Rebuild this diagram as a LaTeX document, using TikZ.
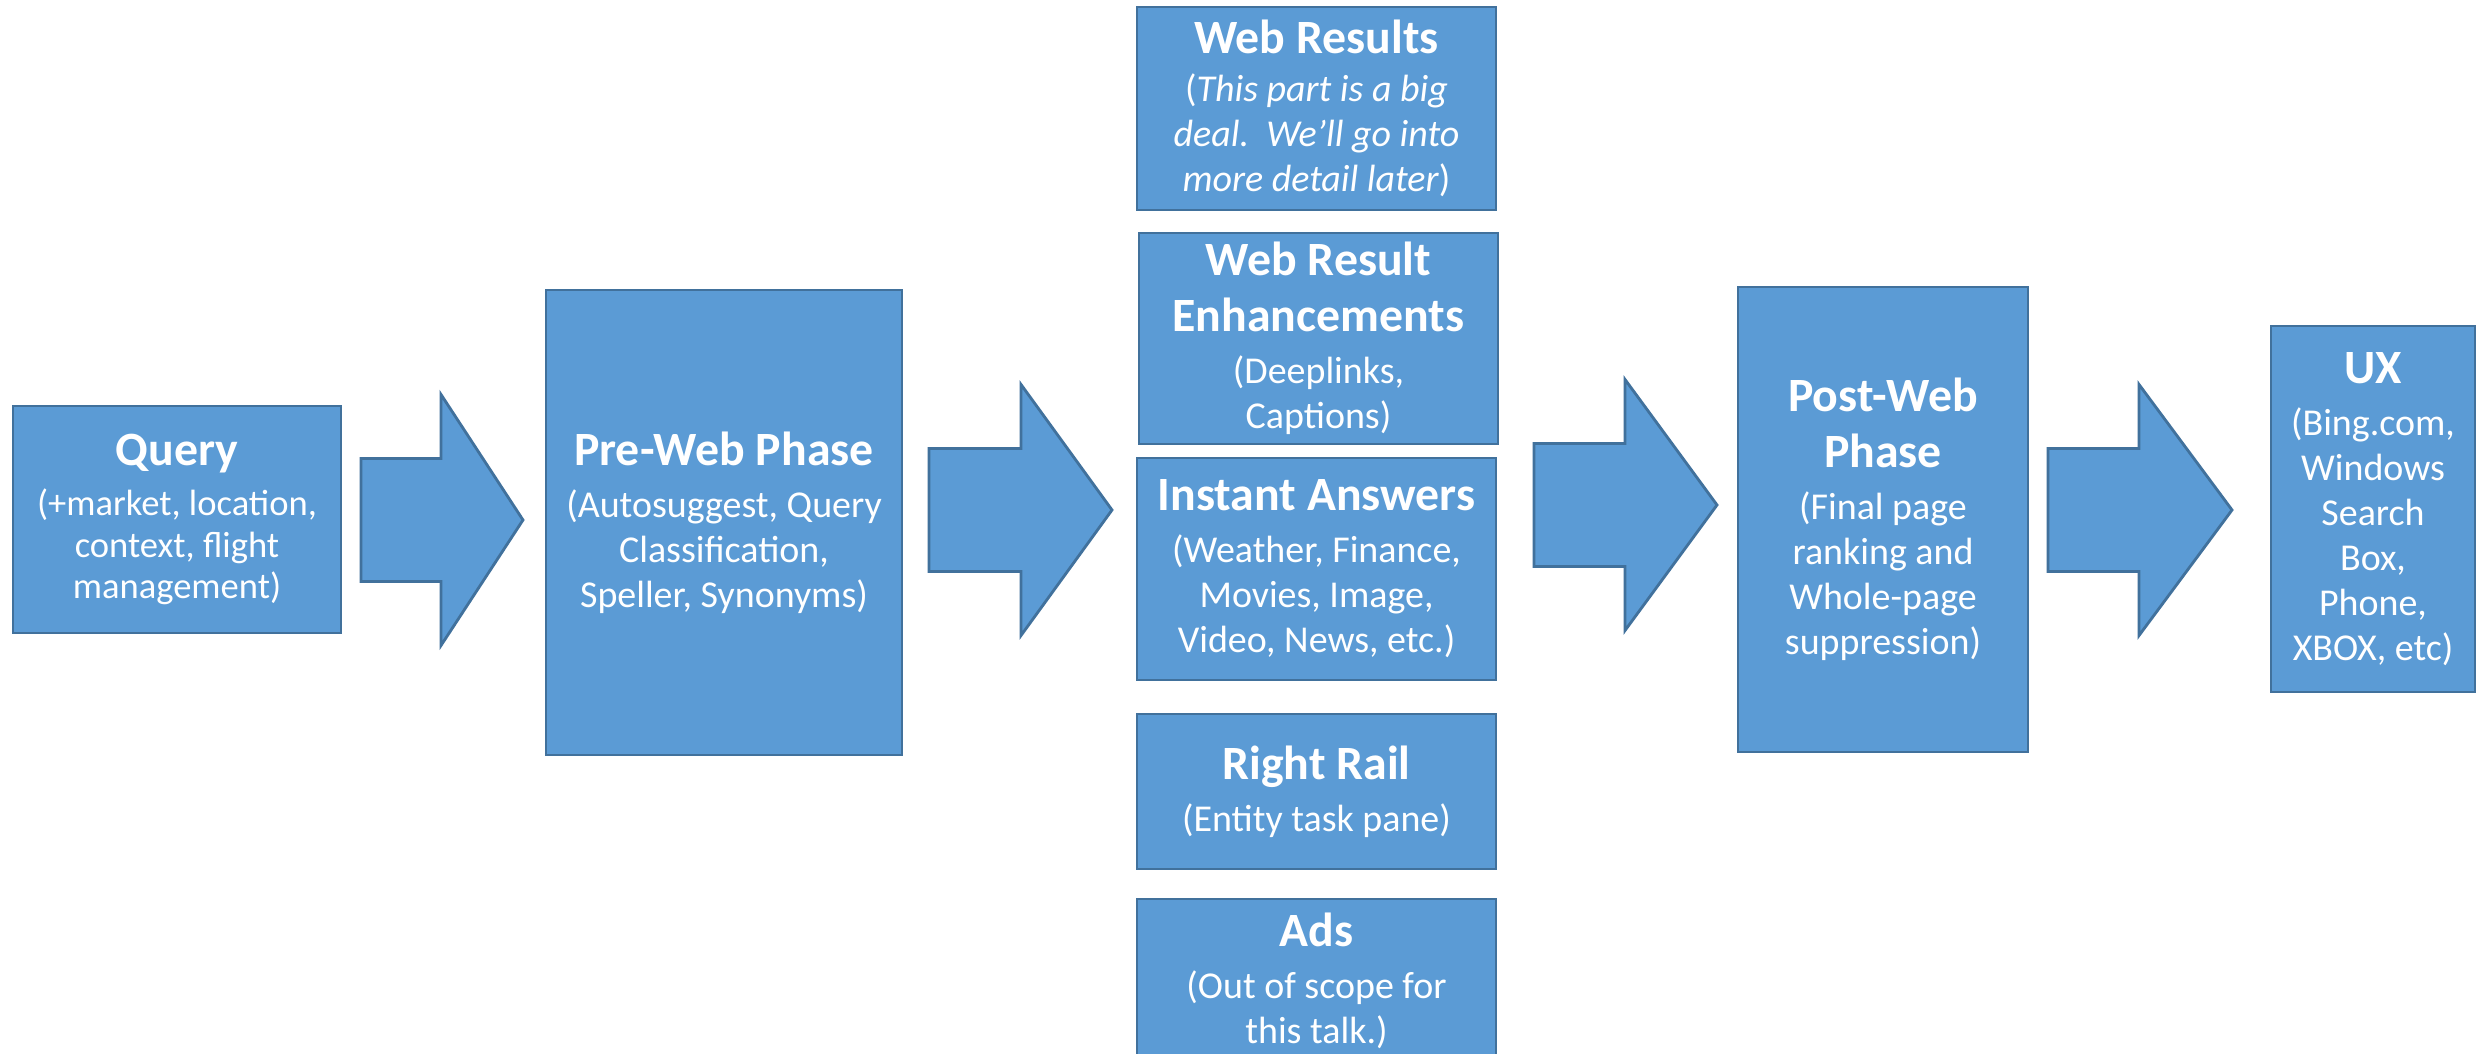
\documentclass[tikz,border=0pt]{standalone}
\usepackage{fontspec}
\setmainfont{Carlito}
\definecolor{boxfill}{HTML}{5B9BD5}
\definecolor{boxline}{HTML}{41719C}
\tikzset{
  stage/.style={draw=boxline, fill=boxfill, line width=0.8pt, text=white,
    align=center, inner sep=0pt, font=\fontsize{10.8}{12.8}\selectfont},
  blockarrow/.style={draw=boxline, fill=boxfill, line width=0.8pt, line join=miter},
}
\newcommand{\ttl}[1]{{\fontsize{13.6}{16}\selectfont\bfseries #1}}
\begin{document}
\begin{tikzpicture}[x=0.1mm,y=-0.1mm]
\useasboundingbox (0,0) rectangle (2481,1054);
\fill[white] (0,0) rectangle (2481,1054);
\clip (0,0) rectangle (2481,1054);
% stages
\node[stage, minimum width=32.8mm, minimum height=22.7mm, font=\fontsize{10.4}{11.8}\selectfont] (query) at (177,519.5)
  {\ttl{Query}\\[2.5pt](+market, location,\\context, flight\\management)};
\node[stage, minimum width=35.6mm, minimum height=46.5mm] (preweb) at (724,522.5)
  {\ttl{Pre-Web Phase}\\[2pt](Autosuggest, Query\\Classification,\\Speller, Synonyms)};
\node[stage, minimum width=35.9mm, minimum height=20.3mm] (webres) at (1316.5,108.5)
  {\ttl{Web Results}\\[1pt](\textit{This part is a big}\\\textit{deal.\ \ We’ll go into}\\\textit{more detail later})};
\node[stage, minimum width=35.9mm, minimum height=21.1mm] (enhance) at (1318.5,338.5)
  {\ttl{Web Result}\\[3pt]\ttl{Enhancements}\\[2pt](Deeplinks,\\Captions)};
\node[stage, minimum width=35.9mm, minimum height=22.2mm] (instant) at (1316.5,569)
  {\ttl{Instant Answers}\\[2pt](Weather, Finance,\\Movies, Image,\\Video, News, etc.)};
\node[stage, minimum width=35.9mm, minimum height=15.5mm] (rail) at (1316.5,791.5)
  {\ttl{Right Rail}\\[2pt](Entity task pane)};
\node[stage, minimum width=35.9mm, minimum height=16.4mm] (ads) at (1316.5,981)
  {\ttl{Ads}\\[2pt](Out of scope for\\this talk.)};
\node[stage, minimum width=29mm, minimum height=46.5mm] (postweb) at (1883,519.5)
  {\ttl{Post-Web}\\[3pt]\ttl{Phase}\\[2pt](Final page\\ranking and\\Whole-page\\suppression)};
\node[stage, minimum width=20.4mm, minimum height=36.6mm] (ux) at (2373,509)
  {\ttl{UX}\\[2pt](Bing.com,\\Windows\\Search\\Box,\\Phone,\\XBOX, etc)};
% block arrows between the stages
\foreach \xa/\xb/\xc/\cy in {361/441/523/520, 929/1021/1112/510, 1534/1625/1717/505, 2048/2139/2232/510}
  \draw[blockarrow] (\xa,\cy-61.5) -- (\xb,\cy-61.5) -- (\xb,\cy-125.5) -- (\xc,\cy)
    -- (\xb,\cy+125.5) -- (\xb,\cy+61.5) -- (\xa,\cy+61.5) -- cycle;
\end{tikzpicture}
\end{document}
